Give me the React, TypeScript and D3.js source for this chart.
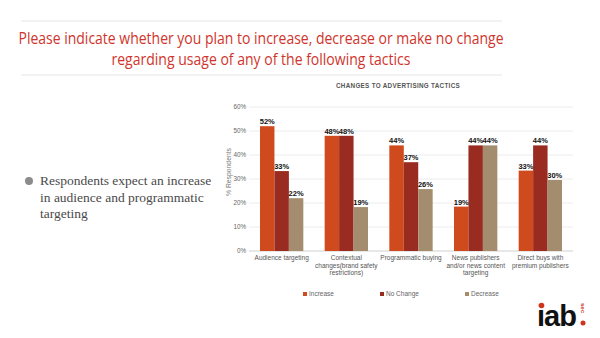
import React from "react";
import * as d3 from "d3";

const categories = [
  ["Audience targeting"],
  ["Contextual", "changes(brand safety", "restrictions)"],
  ["Programmatic buying"],
  ["News publishers", "and/or news content", "targeting"],
  ["Direct buys with", "premium publishers"],
];
const seriesNames = ["Increase", "No Change", "Decrease"];
const increase = [52, 48, 44, 18.5, 33.5];
const noChange = [33.3, 48, 37, 44, 44];
const decrease = [22, 18.3, 25.8, 44, 29.6];
const valueLabels = [
  ["52%", "33%", "22%"],
  ["48%", "48%", "19%"],
  ["44%", "37%", "26%"],
  ["19%", "44%", "44%"],
  ["33%", "44%", "30%"],
];
const yTicks = [0, 10, 20, 30, 40, 50, 60];
const colors = ["#cf4a1c", "#9a2b20", "#a38d6e"];

export default function App() {
  const W = 600, H = 338;
  const x0 = d3
    .scaleBand<number>()
    .domain(d3.range(categories.length))
    .range([249, 573])
    .paddingInner(0.33)
    .paddingOuter(0.17);
  const x1 = d3.scaleBand<number>().domain([0, 1, 2]).range([0, x0.bandwidth()]);
  const y = d3.scaleLinear().domain([0, 60]).range([251, 107]);
  const series = [increase, noChange, decrease];

  return (
    <svg width={W} height={H} style={{ position: "absolute", left: 0, top: 0, background: "#fff" }}>
      <line x1={21} x2={502} y1={21} y2={21} stroke="#e6e6e6" />
      <line x1={21} x2={502} y1={75} y2={75} stroke="#e6e6e6" />
      <g fontFamily="'Open Sans', sans-serif" fontSize={15.5} fill="#d0342c" textAnchor="middle">
        <text x={261} y={44} textLength={485} lengthAdjust="spacingAndGlyphs">
          Please indicate whether you plan to increase, decrease or make no change
        </text>
        <text x={261} y={65} textLength={299} lengthAdjust="spacingAndGlyphs">
          regarding usage of any of the following tactics
        </text>
      </g>

      <circle cx={29} cy={181} r={4} fill="#8c8c8c" />
      <g fontFamily="'Liberation Serif', serif" fontSize={13.5} fill="#4a4a4a">
        <text x={40} y={185}>Respondents expect an increase</text>
        <text x={40} y={202}>in audience and programmatic</text>
        <text x={40} y={218}>targeting</text>
      </g>

      <text
        x={398}
        y={88}
        textAnchor="middle"
        fontFamily="'Liberation Sans', Arial, sans-serif"
        fontSize={6.3}
        fontWeight="bold"
        fill="#555"
        letterSpacing={0.3}
      >
        CHANGES TO ADVERTISING TACTICS
      </text>

      {yTicks.map((t) => (
        <g key={t}>
          <line x1={249} x2={573} y1={y(t)} y2={y(t)} stroke={t === 0 ? "#d0d0d0" : "#ececec"} />
          <text
            x={246}
            y={y(t) + 2.3}
            textAnchor="end"
            fontFamily="'Liberation Sans', Arial, sans-serif"
            fontSize={6.3}
            fill="#666"
          >
            {t}%
          </text>
        </g>
      ))}
      <text
        transform={`translate(231,172) rotate(-90)`}
        textAnchor="middle"
        fontFamily="'Liberation Sans', Arial, sans-serif"
        fontSize={6.8}
        fill="#777"
      >
        % Respondents
      </text>

      {categories.map((cat, i) => (
        <g key={i} transform={`translate(${x0(i)},0)`}>
          {series.map((s, j) => (
            <rect
              key={j}
              x={x1(j)}
              y={y(s[i])}
              width={x1.bandwidth()}
              height={y(0) - y(s[i])}
              fill={colors[j]}
            />
          ))}
          {series.map((s, j) => (
            <text
              key={"l" + j}
              x={(x1(j) as number) + x1.bandwidth() / 2}
              y={y(s[i]) - 2}
              textAnchor="middle"
              fontFamily="'Liberation Sans', Arial, sans-serif"
              fontSize={7.5}
              fontWeight="bold"
              fill="#111"
            >
              {valueLabels[i][j]}
            </text>
          ))}
          {cat.map((line, k) => (
            <text
              key={"c" + k}
              x={x0.bandwidth() / 2}
              y={260 + k * 7.5}
              textAnchor="middle"
              fontFamily="'Liberation Sans', Arial, sans-serif"
              fontSize={6.5}
              fill="#555"
            >
              {line}
            </text>
          ))}
        </g>
      ))}

      {seriesNames.map((n, j) => {
        const lx = [303, 380, 465][j];
        return (
          <g key={n}>
            <rect x={lx} y={292} width={4} height={4} fill={colors[j]} />
            <text
              x={lx + 6}
              y={296}
              fontFamily="'Liberation Sans', Arial, sans-serif"
              fontSize={6.5}
              fill="#666"
            >
              {n}
            </text>
          </g>
        );
      })}

      <g>
        <text
          x={537}
          y={326}
          fontFamily="'Liberation Sans', Arial, sans-serif"
          fontSize={29}
          fontWeight="bold"
          fill="#111"
          letterSpacing={-1}
        >
          iab
        </text>
        <rect x={539} y={304} width={6} height={5} fill="#fff" />
        <circle cx={541.5} cy={305.5} r={2.8} fill="#d0341f" />
        <circle cx={583} cy={323} r={2.5} fill="#d0341f" />
        <text
          transform="translate(581,303) rotate(90)"
          fontFamily="'Liberation Sans', Arial, sans-serif"
          fontSize={6}
          fontWeight="bold"
          fill="#d0341f"
        >
          sec
        </text>
      </g>
    </svg>
  );
}
